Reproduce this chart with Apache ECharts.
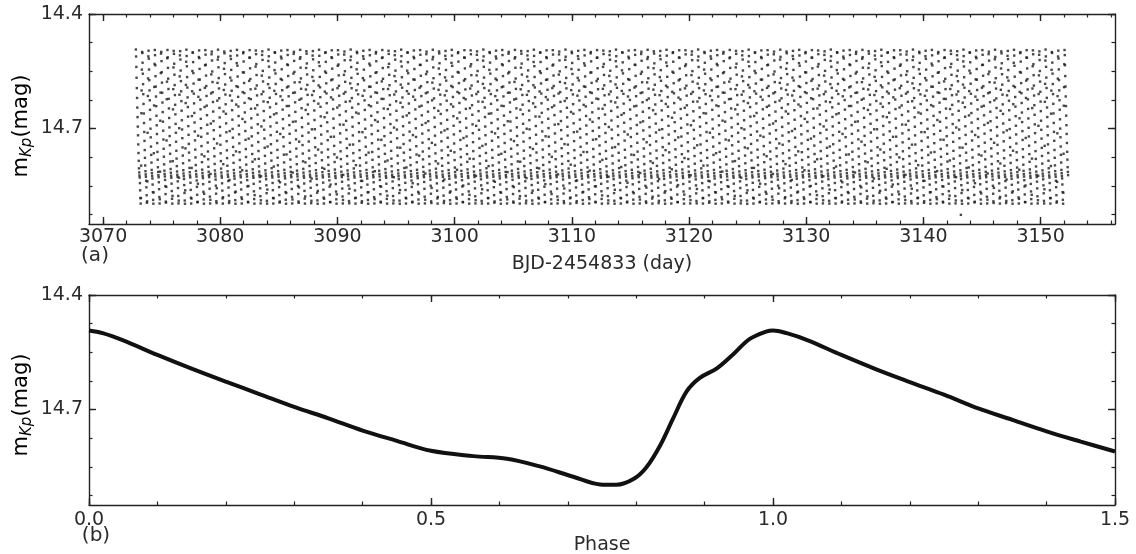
<!DOCTYPE html>
<html><head><meta charset="utf-8">
<script src="https://cdn.jsdelivr.net/npm/echarts@6/dist/echarts.min.js"></script>
<style>html,body{margin:0;padding:0;background:#fff}#c{width:1136px;height:554px}</style>
</head><body><div id="c"></div>
<script>
// ---- Panel (b): phase-folded light curve ----
const phaseValues = [0.000, 0.020, 0.050, 0.100, 0.150, 0.200, 0.250, 0.300, 0.350, 0.400, 0.450, 0.500,
  0.562, 0.611, 0.659, 0.708, 0.747, 0.771, 0.796, 0.815, 0.835, 0.854, 0.874, 0.893, 0.918, 0.942, 0.966, 0.991, 1.000,
  1.020, 1.050, 1.100, 1.150, 1.200, 1.250, 1.300, 1.350, 1.400, 1.450, 1.500];
const phaseMags = [14.493, 14.500, 14.519, 14.557, 14.593, 14.627, 14.660, 14.693, 14.723, 14.755, 14.782, 14.808,
  14.822, 14.829, 14.849, 14.876, 14.896, 14.897, 14.882, 14.851, 14.794, 14.723, 14.652, 14.617, 14.592, 14.555, 14.515, 14.495, 14.493,
  14.500, 14.518, 14.557, 14.594, 14.628, 14.661, 14.697, 14.727, 14.757, 14.784, 14.810];

// ---- Panel (a): K2 long-cadence time series, folded back from the curve above ----
const obsStart = 3072.80;   // first observation (BJD-2454833)
const obsEnd = 3152.35;     // last observation
const cadence = 0.020434;   // long cadence, days
const period = 0.53909;     // pulsation period, days
const epoch = 3072.80;      // phase zero
const outlierDays = [3143.2];
const outlierMags = [14.926];

// ---- Axis ticks ----
const dayRange = [3068.8, 3156.35];
const dayTicks = [3070, 3080, 3090, 3100, 3110, 3120, 3130, 3140, 3150];
const dayMinorStep = 2;
const phaseRange = [0, 1.5];
const phaseTicks = [0.0, 0.5, 1.0, 1.5];
const phaseMinorStep = 0.1;
const magRange = [14.4, 14.95];
const magTicks = [14.4, 14.7];
const magMinorStep = 0.075;

function stepTicks(from, to, step) {
  const out = []; const n = Math.floor((to - from) / step + 1e-6);
  for (let i = 0; i <= n; i++) out.push(+(from + i * step).toFixed(4));
  return out;
}
const dayMinor = stepTicks(3070, dayRange[1], dayMinorStep);
const phaseMinor = stepTicks(0, 1.5, phaseMinorStep);
const magMinor = stepTicks(14.4, magRange[1], magMinorStep);

// one-cycle template (phase 0..1)
const tplP = [], tplM = [];
for (let i = 0; i < phaseValues.length; i++) if (phaseValues[i] <= 1.0) { tplP.push(phaseValues[i]); tplM.push(phaseMags[i]); }
function magAt(ph) {
  for (let i = 1; i < tplP.length; i++) {
    if (ph <= tplP[i]) { const f = (ph - tplP[i-1]) / (tplP[i] - tplP[i-1]); return tplM[i-1] + f * (tplM[i] - tplM[i-1]); }
  }
  return tplM[tplM.length - 1];
}
const timeSeries = [];
const nObs = Math.floor((obsEnd - obsStart) / cadence);
for (let k = 0; k <= nObs; k++) {
  const t = obsStart + k * cadence;
  let ph = ((t - epoch) / period) % 1; if (ph < 0) ph += 1;
  timeSeries.push([t, magAt(ph)]);
}
const outliers = outlierDays.map((d, i) => [d, outlierMags[i]]);
const foldedCurve = phaseValues.map((p, i) => [p, phaseMags[i]]);

const FONT = 'DejaVu Sans';
const TXT = '#2b2b2b';
const LINE = '#222';

function axisGroup(kind, grid, pos, range, majors, minors, opts) {
  const base = { type: 'value', gridIndex: grid, position: pos, min: range[0], max: range[1],
    inverse: !!opts.inverse, splitLine: { show: false }, scale: true };
  const major = Object.assign({}, base, {
    axisLine: { show: true, onZero: false, lineStyle: { color: LINE, width: 1.4 } },
    axisTick: { show: true, inside: true, length: 7, customValues: majors, lineStyle: { color: LINE, width: 1.4 } },
    axisLabel: opts.labels ? { show: true, customValues: majors, formatter: opts.fmt, fontFamily: FONT, fontSize: 19,
      color: TXT, margin: opts.margin } : { show: false }
  });
  const minor = Object.assign({}, base, {
    axisLine: { show: false, onZero: false },
    axisTick: { show: true, inside: true, length: 3.5, customValues: minors, lineStyle: { color: LINE, width: 1.2 } },
    axisLabel: { show: false }
  });
  return [major, minor];
}

const xAxes = [].concat(
  axisGroup('x', 0, 'bottom', dayRange, dayTicks, dayMinor, { labels: true, fmt: v => String(Math.round(v)), margin: 4 }),
  axisGroup('x', 0, 'top', dayRange, dayTicks, dayMinor, { labels: false }),
  axisGroup('x', 1, 'bottom', phaseRange, phaseTicks, phaseMinor, { labels: true, fmt: v => v.toFixed(1), margin: 6 }),
  axisGroup('x', 1, 'top', phaseRange, phaseTicks, phaseMinor, { labels: false })
);
const yAxes = [].concat(
  axisGroup('y', 0, 'left', magRange, magTicks, magMinor, { labels: true, inverse: true, fmt: v => v.toFixed(1), margin: 6 }),
  axisGroup('y', 0, 'right', magRange, magTicks, magMinor, { labels: false, inverse: true }),
  axisGroup('y', 1, 'left', magRange, magTicks, magMinor, { labels: true, inverse: true, fmt: v => v.toFixed(1), margin: 6 }),
  axisGroup('y', 1, 'right', magRange, magTicks, magMinor, { labels: false, inverse: true })
);

const ylabelRich = {
  m: { fontFamily: FONT, fontSize: 21, color: TXT, lineHeight: 26, verticalAlign: 'middle' },
  s: { fontFamily: FONT, fontSize: 15, fontStyle: 'italic', color: TXT, lineHeight: 15, verticalAlign: 'bottom' }
};
function textEl(x, y, text, size, rot) {
  return { type: 'text', x: x, y: y, rotation: rot || 0, silent: true,
    style: { text: text, fontFamily: FONT, fontSize: size, fill: TXT, align: 'center', verticalAlign: 'middle' } };
}
function yNameEl(x, y) {
  return { type: 'text', x: x, y: y, rotation: Math.PI / 2, silent: true,
    style: { text: '{m|m}{s|Kp}{m|(mag)}', rich: ylabelRich, align: 'center', verticalAlign: 'middle' } };
}

const chart = echarts.init(document.getElementById('c'), null, { renderer: 'canvas' });
chart.setOption({
  animation: false,
  backgroundColor: '#fff',
  grid: [
    { left: 89, top: 14, width: 1026, height: 210 },
    { left: 89, top: 295, width: 1026, height: 210 }
  ],
  xAxis: xAxes,
  yAxis: yAxes,
  graphic: [
    yNameEl(22, 126),
    yNameEl(22, 405),
    textEl(95, 256, '(a)', 20),
    textEl(96, 536, '(b)', 20),
    textEl(602, 264, 'BJD-2454833 (day)', 19),
    textEl(602, 545, 'Phase', 19)
  ],
  series: [
    { type: 'scatter', xAxisIndex: 0, yAxisIndex: 0, data: timeSeries, symbol: 'rect', symbolSize: 2.4,
      itemStyle: { color: '#1c1c1c' }, silent: true },
    { type: 'scatter', xAxisIndex: 0, yAxisIndex: 0, data: outliers, symbol: 'rect', symbolSize: 2.4,
      itemStyle: { color: '#1c1c1c' }, silent: true },
    { type: 'line', xAxisIndex: 4, yAxisIndex: 4, data: foldedCurve, showSymbol: false, smooth: 0.35,
      lineStyle: { color: '#111', width: 4 }, silent: true }
  ]
});
</script></body></html>
